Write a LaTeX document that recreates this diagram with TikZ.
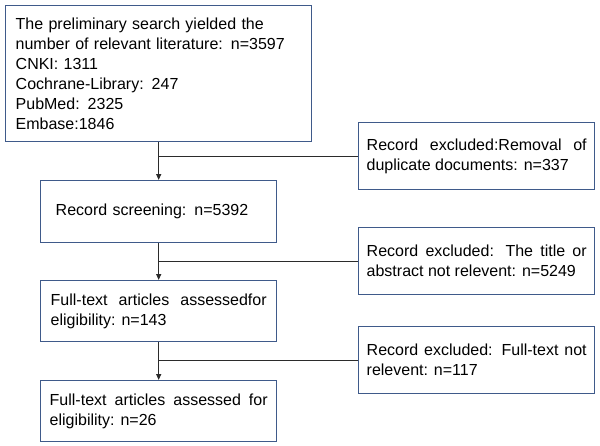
\documentclass[tikz,border=0pt]{standalone}
\usepackage{fontspec}
\setmainfont{Liberation Sans}
\usetikzlibrary{positioning,arrows.meta}
\definecolor{boxblue}{HTML}{3F5A8A}
\definecolor{linegray}{HTML}{2B2B2B}

\begin{document}
\begin{tikzpicture}[x=1pt, y=-1pt, every node/.style={font=\fontsize{16}{20}\selectfont},
     stage/.style={draw=boxblue, line width=1.4pt, anchor=north west, align=justify, inner ysep=0pt},
     excl/.style={stage, text width=220pt, inner xsep=8pt, minimum height=67pt},
     flow/.style={draw=linegray, line width=1.2pt},
     arr/.style={flow, -{Triangle[length=6pt,width=5pt]}}]

   \useasboundingbox (0,0) rectangle (600,445);

   \node[stage, text width=286pt, inner xsep=10pt, minimum height=136pt, align=left] (search) at (5,5)
     {The preliminary search yielded the\\ number of relevant literature: n=3597\\ CNKI: 1311\\ Cochrane-Library: 247\\ PubMed: 2325\\ Embase:1846};
   \node[stage, text width=206pt, inner xsep=15pt, minimum height=62pt, align=left] (screen) at (40,180) {Record screening: n=5392};
   \node[stage, text width=216pt, inner xsep=10pt, minimum height=61pt] (fulltext) at (40,280) {Full-text articles assessedfor\linebreak eligibility: n=143};
   \node[stage, text width=218pt, inner xsep=9pt, minimum height=61pt] (incl) at (40,380) {Full-text articles assessed for\linebreak eligibility: n=26};

   \node[excl] (dup) at (358,122) {Record excluded:Removal of\linebreak duplicate documents: n=337};
   \node[excl] (title) at (358,227) {Record excluded: The title or\linebreak abstract not relevent: n=5249};
   \node[excl] (notrel) at (358,326) {Record excluded: Full-text not\linebreak relevent: n=117};

   \draw[arr] (search.south) -- (screen.north);
   \draw[arr] (screen.south) -- (fulltext.north);
   \draw[arr] (fulltext.south) -- (incl.north);
   \draw[flow] (search.south |- dup.west) -- (dup.west);
   \draw[flow] (screen.south |- title.west) -- (title.west);
   \draw[flow] (fulltext.south |- notrel.west) -- (notrel.west);
  \end{tikzpicture}
\end{document}
